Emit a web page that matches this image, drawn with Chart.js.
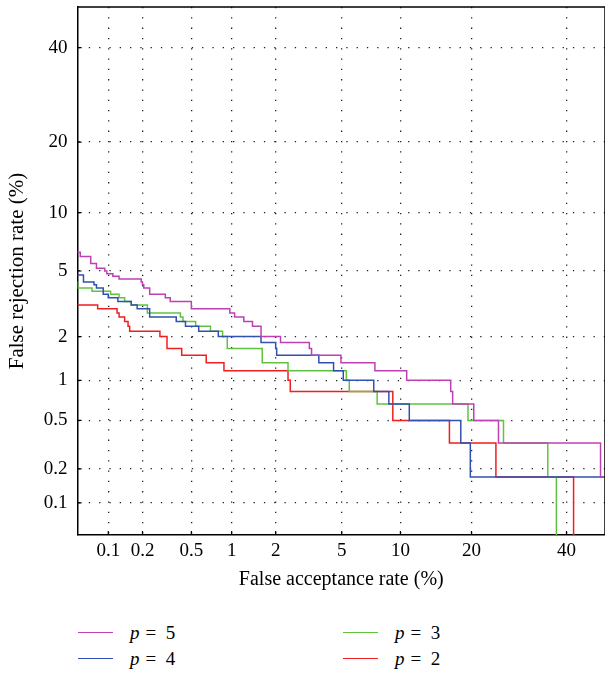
<!DOCTYPE html>
<html>
<head>
<meta charset="utf-8">
<script src="https://cdn.jsdelivr.net/npm/chart.js@4/dist/chart.umd.min.js"></script>
<style>
body{margin:0;background:#fff;}
#wrap{position:relative;width:605px;height:675px;font-family:"Liberation Serif",serif;color:#000;}
#grafica{position:absolute;left:0;top:0;}
.ley{position:absolute;font-size:19px;line-height:19px;white-space:nowrap;}
.ley i{margin-right:6px;}
.lin{position:absolute;height:0;border-top:1.5px solid #000;width:35px;}
</style>
</head>
<body>
<div id="wrap">
<canvas id="grafica" width="605" height="600"></canvas>
<div id="leyenda"></div>
</div>
<script>
// ejes (porcentaje)
var tickPct = [0.1, 0.2, 0.5, 1, 2, 5, 10, 20, 40];
var tickLbl = ["0.1", "0.2", "0.5", "1", "2", "5", "10", "20", "40"];

// p = 5
var fa5 = [0.05, 0.055, 0.069, 0.078, 0.093, 0.097, 0.11, 0.125, 0.195, 0.2, 0.205, 0.23, 0.31, 0.34, 0.5, 0.97, 1.05, 1.22, 1.4, 1.6, 2.15, 3.25, 3.35, 4.95, 7.5, 10.7, 16.6, 16.9, 20.4, 25, 48.3, 50];
var fr5 = [6.33, 6.0, 5.5, 5.17, 5.0, 4.83, 4.67, 4.5, 4.33, 4.17, 4.0, 3.67, 3.5, 3.33, 3.0, 2.83, 2.67, 2.5, 2.33, 2.0, 1.83, 1.67, 1.5, 1.33, 1.17, 1.0, 0.83, 0.67, 0.5, 0.33, 0.17, 0.17];

// p = 4
var fa4 = [0.05, 0.059, 0.074, 0.078, 0.09, 0.1, 0.122, 0.16, 0.18, 0.23, 0.38, 0.45, 0.57, 0.8, 1.6, 2.0, 2.03, 3.7, 4.5, 5.1, 7.4, 8.8, 11, 18.2, 19.8, 50];
var fr4 = [4.75, 4.33, 4.17, 4.0, 3.67, 3.5, 3.33, 3.17, 3.0, 2.67, 2.5, 2.33, 2.17, 2.0, 1.83, 1.67, 1.5, 1.33, 1.17, 1.0, 0.83, 0.67, 0.5, 0.33, 0.17, 0.17];

// p = 3
var fa3 = [0.05, 0.052, 0.071, 0.105, 0.125, 0.14, 0.16, 0.22, 0.41, 0.43, 0.54, 0.7, 0.86, 0.93, 1.63, 2.4, 5.3, 5.5, 7.7, 19.4, 26, 35.6, 37.6];
var fr3 = [4.33, 4.0, 3.83, 3.67, 3.5, 3.33, 3.17, 2.83, 2.67, 2.5, 2.33, 2.17, 2.0, 1.67, 1.33, 1.17, 1.0, 0.83, 0.67, 0.5, 0.33, 0.17, 0.001];

// p = 2
var fa2 = [0.05, 0.08, 0.12, 0.125, 0.14, 0.15, 0.155, 0.28, 0.32, 0.42, 0.65, 0.88, 2.4, 2.48, 9.2, 16.4, 24.5, 41.7];
var fr2 = [3.17, 3.0, 2.83, 2.67, 2.5, 2.33, 2.17, 2.0, 1.67, 1.5, 1.33, 1.17, 1.0, 0.83, 0.5, 0.33, 0.17, 0.001];

var series = [
    {label: "5", fa: fa5, fr: fr5, color: "rgb(190, 65, 180)"},
    {label: "4", fa: fa4, fr: fr4, color: "rgb(50, 80, 175)"},
    {label: "3", fa: fa3, fr: fr3, color: "rgb(95, 195, 65)"},
    {label: "2", fa: fa2, fr: fr2, color: "rgb(240, 30, 30)"}
];

//--inversa de la normal (Acklam)
function probit(p){
    var a = [-3.969683028665376e+01, 2.209460984245205e+02, -2.759285104469687e+02, 1.383577518672690e+02, -3.066479806614716e+01, 2.506628277459239e+00];
    var b = [-5.447609879822406e+01, 1.615858368580409e+02, -1.556989798598866e+02, 6.680131188771972e+01, -1.328068155288572e+01];
    var c = [-7.784894002430293e-03, -3.223964580411365e-01, -2.400758277161838e+00, -2.549732539343734e+00, 4.374664141464968e+00, 2.938163982698783e+00];
    var d = [7.784695709041462e-03, 3.224671290700398e-01, 2.445134137142996e+00, 3.754408661907416e+00];
    var q, r;
    if(p < 0.02425){
        q = Math.sqrt(-2*Math.log(p));
        return (((((c[0]*q+c[1])*q+c[2])*q+c[3])*q+c[4])*q+c[5])/((((d[0]*q+d[1])*q+d[2])*q+d[3])*q+1);
    }
    if(p <= 1-0.02425){
        q = p-0.5; r = q*q;
        return (((((a[0]*r+a[1])*r+a[2])*r+a[3])*r+a[4])*r+a[5])*q/(((((b[0]*r+b[1])*r+b[2])*r+b[3])*r+b[4])*r+1);
    }
    q = Math.sqrt(-2*Math.log(1-p));
    return -(((((c[0]*q+c[1])*q+c[2])*q+c[3])*q+c[4])*q+c[5])/((((d[0]*q+d[1])*q+d[2])*q+d[3])*q+1);
}

var datasets = [];
series.forEach(function(s){
    var pts = [];
    for(var i = 0; i < s.fa.length; i++){
        pts.push({x: probit(s.fa[i]/100), y: probit(s.fr[i]/100)});
    }
    datasets.push({
        label: "p = " + s.label,
        data: pts,
        borderColor: s.color,
        borderWidth: 1.5,
        pointRadius: 0,
        stepped: true,
        fill: false
    });
});

function ticksProbit(axis){
    axis.ticks = tickPct.map(function(v){ return {value: probit(v/100)}; });
}

//--marco superior/derecho y marcas hacia adentro
var marco = {
    id: "marco",
    afterDraw: function(chart){
        var ca = chart.chartArea;
        var ctx = chart.ctx;
        ctx.save();
        ctx.strokeStyle = "#000";
        ctx.lineWidth = 1.5;
        ctx.beginPath();
        ctx.moveTo(ca.left, ca.top);
        ctx.lineTo(ca.right, ca.top);
        ctx.lineTo(ca.right, ca.bottom);
        ctx.stroke();
        ctx.lineWidth = 1.2;
        ctx.beginPath();
        tickPct.forEach(function(v){
            var px = chart.scales.x.getPixelForValue(probit(v/100));
            var py = chart.scales.y.getPixelForValue(probit(v/100));
            ctx.moveTo(px, ca.bottom);
            ctx.lineTo(px, ca.bottom - 4);
            ctx.moveTo(ca.left, py);
            ctx.lineTo(ca.left + 4, py);
        });
        ctx.stroke();
        ctx.restore();
    }
};

var fuente = {family: "'Liberation Serif', serif", size: 19};

new Chart(document.getElementById("grafica"), {
    type: "line",
    data: {datasets: datasets},
    options: {
        responsive: false,
        animation: false,
        devicePixelRatio: 1,
        layout: {padding: {top: 7, right: 0, left: 0, bottom: 0}},
        plugins: {legend: {display: false}, tooltip: {enabled: false}},
        scales: {
            x: {
                type: "linear",
                min: -3.28,
                max: -0.015,
                afterBuildTicks: ticksProbit,
                afterFit: function(s){ s.height = 65; s.paddingLeft = 0; s.paddingRight = 0; },
                grid: {color: "#222", lineWidth: 1.3, drawTicks: false},
                border: {color: "#000", width: 1.5, dash: [1.3, 9]},
                ticks: {
                    color: "#000", font: fuente, padding: 5, maxRotation: 0, autoSkip: false,
                    callback: function(v, i){ return tickLbl[i]; }
                },
                title: {display: true, text: "False acceptance rate (%)", color: "#000",
                    font: {family: "'Liberation Serif', serif", size: 20}, padding: {top: 0, bottom: 8}}
            },
            y: {
                type: "linear",
                min: -3.29,
                max: 0,
                afterBuildTicks: ticksProbit,
                afterFit: function(s){ s.width = 77.6; s.paddingTop = 0; s.paddingBottom = 0; },
                grid: {color: "#222", lineWidth: 1.3, drawTicks: false},
                border: {color: "#000", width: 1.5, dash: [1.3, 9]},
                ticks: {
                    color: "#000", font: fuente, padding: 10, autoSkip: false,
                    callback: function(v, i){ return tickLbl[i]; }
                },
                title: {display: true, text: "False rejection rate (%)", color: "#000",
                    font: {family: "'Liberation Serif', serif", size: 21}, padding: {top: 5, bottom: 0}}
            }
        }
    },
    plugins: [marco]
});

//--leyenda en dos columnas
var posLey = [[78, 633], [343, 633], [78, 659], [343, 659]];
var ordenLey = [0, 2, 1, 3];
var html = "";
ordenLey.forEach(function(k, j){
    var s = series[k];
    var px = posLey[j][0], py = posLey[j][1];
    html += "<div class='lin' style='left:"+px+"px;top:"+(py-1)+"px;border-color:"+s.color+"'></div>";
    html += "<div class='ley' style='left:"+(px+52)+"px;top:"+(py-10)+"px'><i>p</i>=&nbsp;&nbsp;"+s.label+"</div>";
});
document.getElementById("leyenda").innerHTML = html;
</script>
</body>
</html>
